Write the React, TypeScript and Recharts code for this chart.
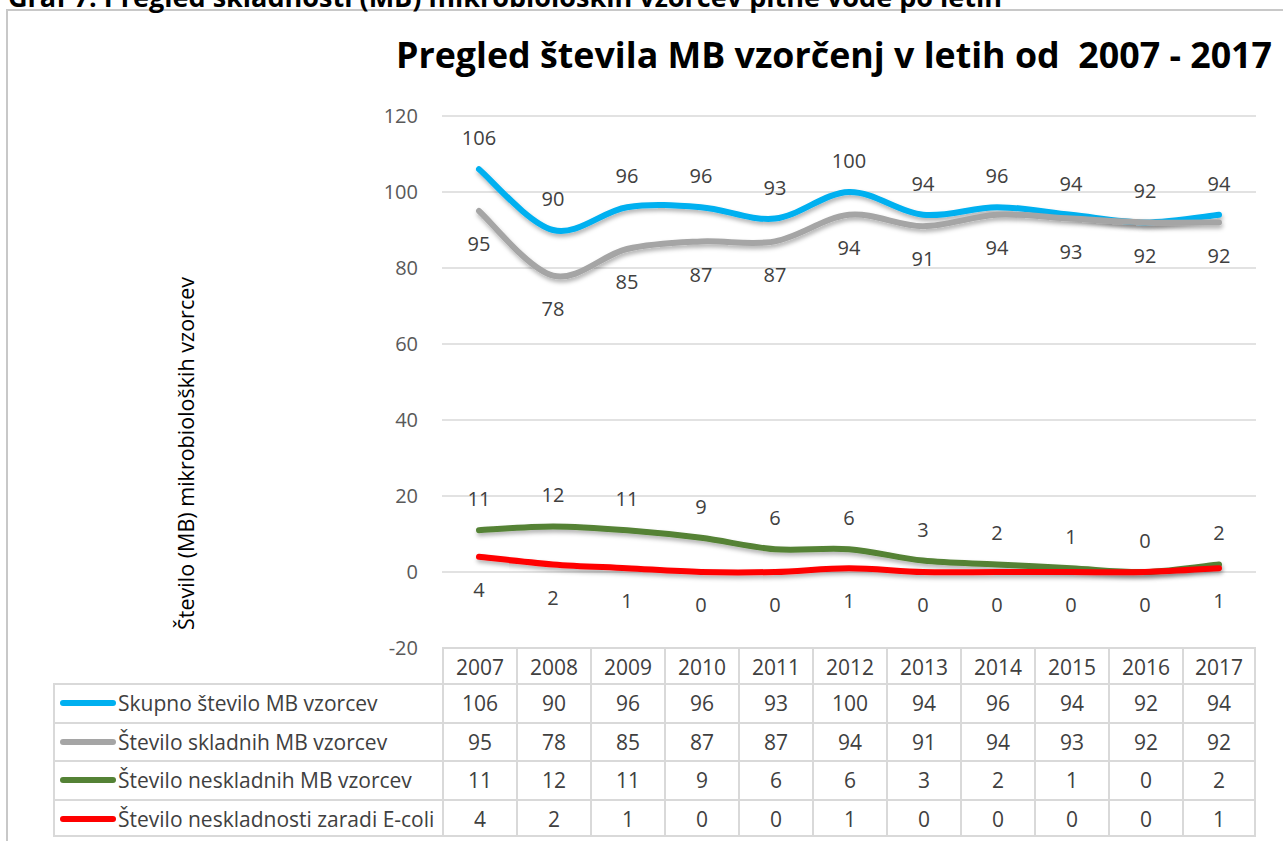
import React from "react";
import { LineChart, Line, XAxis, YAxis, CartesianGrid, LabelList } from "recharts";

const years = ["2007", "2008", "2009", "2010", "2011", "2012", "2013", "2014", "2015", "2016", "2017"];
const skupno = [106, 90, 96, 96, 93, 100, 94, 96, 94, 92, 94];
const skladni = [95, 78, 85, 87, 87, 94, 91, 94, 93, 92, 92];
const neskladni = [11, 12, 11, 9, 6, 6, 3, 2, 1, 0, 2];
const ecoli = [4, 2, 1, 0, 0, 1, 0, 0, 0, 0, 1];
const yTicks = [-20, 0, 20, 40, 60, 80, 100, 120];

const seriesNames = [
  "Skupno število MB vzorcev",
  "Število skladnih MB vzorcev",
  "Število neskladnih MB vzorcev",
  "Število neskladnosti zaradi E-coli",
];
const seriesKeys = ["skupno", "skladni", "neskladni", "ecoli"];
const seriesColors = ["#00B0F0", "#A5A5A5", "#548235", "#FF0000"];
const seriesValues = [skupno, skladni, neskladni, ecoli];
const labelPositions = ["top", "bottom", "top", "bottom"];

const captionText = "Graf 7: Pregled skladnosti (MB) mikrobioloških vzorcev pitne vode po letih";
const titleText = "Pregled števila MB vzorčenj v letih od  2007 - 2017";
const yTitleText = "Število (MB) mikrobioloških vzorcev";

const data = years.map((y, i) => ({
  year: y,
  skupno: skupno[i],
  skladni: skladni[i],
  neskladni: neskladni[i],
  ecoli: ecoli[i],
}));

// Excel-like smoothed line (Catmull-Rom style bezier)
const excelCurve = (context: any) => {
  let pts: number[][] = [];
  return {
    areaStart() {},
    areaEnd() {},
    lineStart() {
      pts = [];
    },
    lineEnd() {
      const n = pts.length;
      if (!n) return;
      context.moveTo(pts[0][0], pts[0][1]);
      for (let i = 0; i < n - 1; i++) {
        const p0 = pts[i - 1] || pts[i];
        const p1 = pts[i];
        const p2 = pts[i + 1];
        const p3 = pts[i + 2] || pts[i + 1];
        const c1x = p1[0] + (p2[0] - p0[0]) / 6;
        const c1y = p1[1] + (p2[1] - p0[1]) / 6;
        const c2x = p2[0] - (p3[0] - p1[0]) / 6;
        const c2y = p2[1] - (p3[1] - p1[1]) / 6;
        context.bezierCurveTo(c1x, c1y, c2x, c2y, p2[0], p2[1]);
      }
    },
    point(x: number, y: number) {
      pts.push([+x, +y]);
    },
  };
};

const FONT = '"Open Sans", "DejaVu Sans", sans-serif';
const PLOT_LEFT = 442;
const PLOT_RIGHT = 1256;
const COL_W = (PLOT_RIGHT - PLOT_LEFT) / years.length;
const HEADER_TOP = 647;
const HEADER_H = 36;
const ROW_H = 38.5;
const LEGEND_LEFT = 53;
const GRID = "#D9D9D9";
const TEXT = "#404040";
const TABLE_FONT = 21;

export default function App() {
  return (
    <div
      style={{
        position: "absolute",
        left: 0,
        top: 0,
        width: 1283,
        height: 841,
        overflow: "hidden",
        background: "#fff",
        fontFamily: FONT,
      }}
    >
      {/* chart frame */}
      <div
        style={{
          position: "absolute",
          left: 6,
          top: 9,
          width: 1400,
          height: 1000,
          border: "2px solid #C8C8C8",
        }}
      />

      {/* caption, title, y-title as svg text */}
      <svg width={1283} height={841} style={{ position: "absolute", left: 0, top: 0 }}>
        <defs>
          <filter id="lineShadow" filterUnits="userSpaceOnUse" x={0} y={0} width={1283} height={841}>
            <feDropShadow dx={1} dy={3} stdDeviation={2} floodColor="#000" floodOpacity={0.3} />
          </filter>
        </defs>
        <text
          x={8}
          y={7}
          fontFamily={FONT}
          fontWeight={700}
          fontSize={27}
          fill="#000"
          textLength={994}
          lengthAdjust="spacingAndGlyphs"
        >
          {captionText}
        </text>
        <text
          x={834}
          y={68}
          textAnchor="middle"
          fontFamily={FONT}
          fontWeight={700}
          fontSize={35}
          fill="#000"
          textLength={876}
          lengthAdjust="spacingAndGlyphs"
          style={{ whiteSpace: "pre" }}
        >
          {titleText}
        </text>
        <text
          x={0}
          y={0}
          transform="translate(194 453.5) rotate(-90)"
          textAnchor="middle"
          fontFamily={FONT}
          fontSize={21}
          fill="#000"
          textLength={353}
          lengthAdjust="spacingAndGlyphs"
        >
          {yTitleText}
        </text>
      </svg>

      <div style={{ position: "absolute", left: 0, top: 0 }}>
        <LineChart
          width={1283}
          height={700}
          data={data}
          margin={{ top: 116, right: 1283 - PLOT_RIGHT, bottom: 52, left: PLOT_LEFT - 60 }}
        >
          <CartesianGrid horizontal={true} vertical={false} stroke={GRID} strokeWidth={1.5} />
          <XAxis dataKey="year" hide padding={{ left: COL_W / 2, right: COL_W / 2 }} />
          <YAxis
            width={60}
            domain={[-20, 120]}
            ticks={yTicks}
            interval={0}
            tickLine={false}
            axisLine={false}
            tickSize={0}
            tickMargin={24}
            tick={{ fill: "#595959", fontSize: 20, fontFamily: FONT }}
          />
          {seriesKeys.map((k, i) => (
            <Line
              key={k}
              dataKey={k}
              type={excelCurve as any}
              stroke={seriesColors[i]}
              strokeWidth={6}
              strokeLinecap="round"
              dot={false}
              activeDot={false}
              filter="url(#lineShadow)"
              isAnimationActive={false}
            >
              <LabelList
                dataKey={k}
                position={labelPositions[i] as any}
                offset={labelPositions[i] === "top" ? 24 : 26}
                fill={TEXT}
                fontSize={20}
                fontFamily={FONT}
              />
            </Line>
          ))}
        </LineChart>
      </div>

      {/* data table: header row */}
      {years.map((y, i) => (
        <div
          key={"h" + y}
          style={{
            position: "absolute",
            left: PLOT_LEFT + i * COL_W,
            top: HEADER_TOP,
            width: COL_W,
            height: HEADER_H,
            boxSizing: "border-box",
            borderLeft: `2px solid ${GRID}`,
            borderTop: `2px solid ${GRID}`,
            borderRight: i === years.length - 1 ? `2px solid ${GRID}` : "none",
            textAlign: "center",
            lineHeight: `${HEADER_H}px`,
            fontSize: TABLE_FONT,
            color: TEXT,
          }}
        >
          {y}
        </div>
      ))}

      {/* data rows */}
      {seriesNames.map((name, r) => {
        const top = HEADER_TOP + HEADER_H + r * ROW_H;
        const last = r === seriesNames.length - 1;
        return (
          <React.Fragment key={name}>
            <div
              style={{
                position: "absolute",
                left: LEGEND_LEFT,
                top,
                width: PLOT_LEFT - LEGEND_LEFT,
                height: ROW_H,
                boxSizing: "border-box",
                borderLeft: `2px solid ${GRID}`,
                borderTop: `2px solid ${GRID}`,
                borderBottom: last ? `2px solid ${GRID}` : "none",
                fontSize: TABLE_FONT,
                color: TEXT,
                lineHeight: `${ROW_H - 2}px`,
                whiteSpace: "pre",
              }}
            >
              <span
                style={{
                  position: "absolute",
                  left: 5,
                  top: (ROW_H - 2) / 2 - 3,
                  width: 56,
                  height: 6,
                  borderRadius: 3,
                  background: seriesColors[r],
                }}
              />
              <span style={{ position: "absolute", left: 63, top: 0 }}>{name}</span>
            </div>
            {seriesValues[r].map((v, i) => (
              <div
                key={name + i}
                style={{
                  position: "absolute",
                  left: PLOT_LEFT + i * COL_W,
                  top,
                  width: COL_W,
                  height: ROW_H,
                  boxSizing: "border-box",
                  borderLeft: `2px solid ${GRID}`,
                  borderTop: `2px solid ${GRID}`,
                  borderRight: i === years.length - 1 ? `2px solid ${GRID}` : "none",
                  borderBottom: last ? `2px solid ${GRID}` : "none",
                  textAlign: "center",
                  lineHeight: `${ROW_H - 2}px`,
                  fontSize: TABLE_FONT,
                  color: TEXT,
                }}
              >
                {v}
              </div>
            ))}
          </React.Fragment>
        );
      })}
    </div>
  );
}
